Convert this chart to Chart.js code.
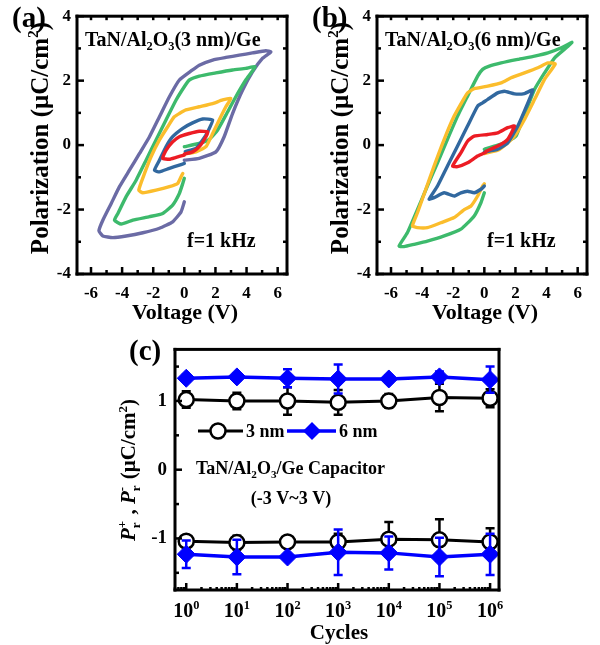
<!DOCTYPE html>
<html>
<head>
<meta charset="utf-8">
<script src="https://cdn.jsdelivr.net/npm/chart.js@4/dist/chart.umd.min.js"></script>
<style>
  html, body { margin: 0; padding: 0; background: #fff; }
  body { width: 600px; height: 645px; position: relative; overflow: hidden; }
  canvas { position: absolute; }
</style>
</head>
<body>
<canvas id="chartA" width="300" height="330" style="left:0;top:0"></canvas>
<canvas id="chartB" width="300" height="330" style="left:300px;top:0"></canvas>
<canvas id="chartC" width="600" height="315" style="left:0;top:330px"></canvas>
<script>
// ---------- P–V hysteresis loops, TaN/Al2O3(3 nm)/Ge ----------
const a_red_V = [0, 0.53, 0.96, 1.39, 1.5, 0.96, 0.32, -0.32, -0.75, -1.18, -1.39, -0.96, -0.53, 0];
const a_red_P = [-0.28, -0.21, -0.05, 0.26, 0.41, 0.43, 0.36, 0.26, 0.1, -0.16, -0.41, -0.44, -0.38, -0.31];

const a_blue_V = [0.06, 0.75, 1.18, 1.5, 1.82, 1.18, 0.53, -0.1, -0.75, -1.18, -1.6, -1.92, -1.6, -0.96, -0.32, 0];
const a_blue_P = [-0.2, -0.1, 0.16, 0.41, 0.78, 0.81, 0.69, 0.52, 0.26, -0.05, -0.47, -0.78, -0.83, -0.72, -0.62, -0.57];

const a_yellow_V = [0, 0.75, 1.39, 1.82, 2.24, 2.67, 2.99, 2.46, 1.82, 0.96, 0.1, -0.32, -0.64, -1.07, -1.6, -2.14, -2.56, -2.93, -2.67, -1.82, -0.96, -0.43, -0.21, -0.1];
const a_yellow_P = [-0.28, -0.21, -0.05, 0.36, 0.78, 1.19, 1.45, 1.4, 1.29, 1.19, 1.09, 0.98, 0.88, 0.57, 0.16, -0.36, -0.88, -1.4, -1.48, -1.4, -1.29, -1.19, -0.98, -0.88];

const a_green_V = [0, 0.96, 1.6, 2.14, 2.67, 3.31, 3.95, 4.55, 3.95, 3.1, 2.03, 0.96, 0.32, 0.05, -0.53, -1.18, -1.82, -2.46, -3.1, -3.74, -4.27, -4.49, -4.06, -3.31, -2.24, -1.39, -0.75, -0.32, -0.1, 0];
const a_green_P = [-0.05, 0.05, 0.18, 0.47, 0.93, 1.5, 2.02, 2.43, 2.38, 2.33, 2.24, 2.14, 2.02, 1.85, 1.4, 0.78, 0.16, -0.47, -1.09, -1.6, -2.12, -2.33, -2.45, -2.33, -2.22, -2.12, -1.86, -1.5, -1.19, -1.03];

const a_purple_V = [0, 0.96, 2.03, 2.56, 3.1, 3.74, 4.38, 5.02, 5.56, 5.24, 4.38, 3.53, 2.67, 1.82, 0.96, 0.43, -0.32, -0.96, -1.6, -2.24, -2.88, -3.53, -4.17, -4.7, -5.24, -5.49, -5.24, -4.6, -3.74, -2.67, -1.6, -0.75, -0.21, 0];
const a_purple_P = [-0.47, -0.41, -0.21, 0.26, 0.98, 1.7, 2.27, 2.69, 2.89, 2.93, 2.86, 2.79, 2.72, 2.64, 2.48, 2.3, 2.02, 1.5, 0.88, 0.26, -0.26, -0.78, -1.29, -1.81, -2.33, -2.66, -2.82, -2.87, -2.82, -2.72, -2.58, -2.38, -2.07, -1.76];

// ---------- P–V hysteresis loops, TaN/Al2O3(6 nm)/Ge ----------
const b_red_V = [0.1, 0.86, 1.5, 1.94, 1.5, 0.86, 0.22, -0.65, -1.08, -1.51, -2.04, -1.72, -1.08, -0.43, 0.1];
const b_red_P = [-0.19, -0.03, 0.18, 0.59, 0.54, 0.38, 0.33, 0.28, 0.12, -0.24, -0.65, -0.67, -0.55, -0.34, -0.22];

const b_blue_V = [0, 0.86, 1.5, 2.15, 2.8, 3.12, 2.58, 1.94, 1.29, 0.86, 0.22, -0.11, -0.43, -1.08, -1.72, -2.37, -3.01, -3.55, -3.23, -2.58, -1.94, -1.51, -1.08, -0.65, -0.22, 0];
const b_blue_P = [-0.22, -0.13, 0.07, 0.59, 1.31, 1.71, 1.6, 1.59, 1.67, 1.62, 1.42, 1.31, 1.21, 0.59, -0.03, -0.65, -1.27, -1.68, -1.63, -1.48, -1.58, -1.48, -1.43, -1.48, -1.37, -1.27];

const b_yellow_V = [0, 0.86, 1.5, 1.94, 2.58, 3.23, 3.87, 4.56, 4.09, 3.44, 2.58, 1.72, 1.08, 0.22, -0.65, -1.08, -1.3, -1.94, -2.58, -3.23, -3.76, -4.3, -4.62, -4.3, -3.66, -2.8, -1.94, -1.29, -0.86, -0.43, -0.11, 0];
const b_yellow_P = [-0.26, -0.16, 0.07, 0.28, 0.8, 1.42, 2.04, 2.52, 2.55, 2.4, 2.24, 2.09, 1.93, 1.83, 1.75, 1.62, 1.45, 0.9, 0.18, -0.65, -1.37, -2.1, -2.51, -2.56, -2.56, -2.41, -2.25, -2.0, -1.89, -1.58, -1.27, -1.2];

const b_green_V = [0, 0.86, 1.5, 2.04, 2.37, 2.8, 3.23, 3.87, 4.52, 5.38, 5.63, 4.95, 4.09, 3.23, 2.15, 1.08, 0.32, -0.11, -0.43, -1.08, -1.72, -2.37, -3.01, -3.66, -4.3, -4.95, -5.48, -5.16, -4.52, -3.66, -2.58, -1.51, -0.65, -0.22, 0];
const b_green_P = [-0.13, 0, 0.12, 0.28, 0.69, 1.21, 1.73, 2.24, 2.71, 3.07, 3.19, 3.02, 2.86, 2.76, 2.66, 2.55, 2.45, 2.35, 2.14, 1.52, 0.9, 0.18, -0.55, -1.27, -2.0, -2.72, -3.13, -3.15, -3.08, -2.98, -2.82, -2.61, -2.2, -1.79, -1.48];

// ---------- Remanent polarization vs. switching cycles ----------
const cycles = [1, 10, 100, 1000, 10000, 100000, 1000000];
const pr3Plus = [1.02, 1.0, 1.0, 0.98, 1.0, 1.05, 1.04];
const pr3PlusErr = [0.12, 0.12, 0.2, 0.18, 0.1, 0.2, 0.13];
const pr3Minus = [-1.04, -1.06, -1.05, -1.05, -1.01, -1.02, -1.05];
const pr3MinusErr = [0.06, 0.1, 0.04, 0.12, 0.25, 0.3, 0.2];
const pr6Plus = [1.33, 1.35, 1.33, 1.32, 1.32, 1.35, 1.31];
const pr6PlusErr = [0.05, 0.05, 0.13, 0.21, 0.05, 0.08, 0.19];
const pr6Minus = [-1.23, -1.27, -1.27, -1.2, -1.21, -1.27, -1.23];
const pr6MinusErr = [0.2, 0.25, 0.03, 0.33, 0.24, 0.28, 0.3];

// axis tick values
const pvMajorY = [-4, -2, 0, 2, 4];
const pvMinorY = [-3, -1, 1, 3];
const pvMajorX = [-6, -4, -2, 0, 2, 4, 6];
const pvMinorX = [-5, -3, -1, 1, 3, 5];
const cycleMajorY = [-1, 0, 1];
const cycleMinorY = [-1.5, -0.5, 0.5, 1.5];

const COLORS = { red: '#ec1c24', blue: '#31689f', yellow: '#fbbd2c', green: '#3dba6c', purple: '#6b6ba5' };
const SERIF = '"Liberation Serif", "Times New Roman", serif';

const pts = (V, P) => V.map((v, i) => ({ x: v, y: P[i] }));

// ---------- rich text helpers (sub/superscripts) ----------
function segFont(size, italic) { return (italic ? 'italic ' : '') + 'bold ' + size + 'px ' + SERIF; }
function segWidth(ctx, s, size) {
  if (s.s === 'ss') {
    ctx.font = segFont(size * 0.62);
    return Math.max(ctx.measureText(s.sub).width, ctx.measureText(s.sup).width) + 1;
  }
  const sz = (s.s === 'sub' || s.s === 'sup') ? size * 0.62 : size;
  ctx.font = segFont(sz, s.s === 'i');
  return ctx.measureText(s.t).width;
}
function drawRich(ctx, segs, x, y, size, align) {
  const widths = segs.map(s => segWidth(ctx, s, size));
  const total = widths.reduce((a, b) => a + b, 0);
  let cx = align === 'center' ? x - total / 2 : (align === 'right' ? x - total : x);
  ctx.textBaseline = 'alphabetic';
  ctx.textAlign = 'left';
  ctx.fillStyle = '#000';
  const base = y + size * 0.33;
  segs.forEach((s, i) => {
    if (s.s === 'ss') {
      ctx.font = segFont(size * 0.62);
      ctx.fillText(s.sub, cx, base + size * 0.22);
      ctx.fillText(s.sup, cx, base - size * 0.42);
    } else if (s.s === 'sub') {
      ctx.font = segFont(size * 0.62);
      ctx.fillText(s.t, cx, base + size * 0.2);
    } else if (s.s === 'sup') {
      ctx.font = segFont(size * 0.62);
      ctx.fillText(s.t, cx, base - size * 0.4);
    } else {
      ctx.font = segFont(size, s.s === 'i');
      ctx.fillText(s.t, cx, base);
    }
    cx += widths[i];
  });
}

// ---------- frame with inward ticks (drawn as filled bars) ----------
function drawFrame(chart, spec) {
  const ctx = chart.ctx;
  const area = chart.chartArea;
  const L = area.left, R = area.right, T = area.top, B = area.bottom;
  const sx = chart.scales.x;
  const sy = chart.scales.y;
  ctx.save();
  ctx.globalAlpha = 1;
  ctx.globalCompositeOperation = 'source-over';
  ctx.fillStyle = '#000000';
  const tw = 2.5;
  const bar = (side, v, len) => {
    if (side === 'left' || side === 'right') {
      const py = sy.getPixelForValue(v);
      const x0 = side === 'left' ? L : R - len;
      ctx.fillRect(x0, py - tw / 2, len, tw);
    } else {
      const px = sx.getPixelForValue(v);
      const y0 = side === 'bottom' ? B - len : T;
      ctx.fillRect(px - tw / 2, y0, tw, len);
    }
  };
  Object.keys(spec).forEach(side => {
    spec[side].major.forEach(v => bar(side, v, spec[side].majorLen));
    spec[side].minor.forEach(v => bar(side, v, spec[side].minorLen));
  });
  const fw = 3;
  ctx.fillRect(L - fw / 2, T - fw / 2, R - L + fw, fw);
  ctx.fillRect(L - fw / 2, B - fw / 2, R - L + fw, fw);
  ctx.fillRect(L - fw / 2, T - fw / 2, fw, B - T + fw);
  ctx.fillRect(R - fw / 2, T - fw / 2, fw, B - T + fw);
  ctx.restore();
}

function overlayPlugin(spec, drawText) {
  return {
    id: 'panelOverlay',
    afterDraw(chart) {
      const ctx = chart.ctx;
      drawFrame(chart, spec);
      ctx.save();
      drawText(ctx, chart);
      ctx.restore();
    }
  };
}

const tickFont = { family: SERIF, weight: 'bold', size: 17 };

function pvOptions() {
  return {
    responsive: false,
    animation: false,
    devicePixelRatio: 1,
    layout: { padding: { left: 0, right: 13, top: 15, bottom: 0 } },
    plugins: { legend: { display: false }, tooltip: { enabled: false } },
    scales: {
      x: {
        type: 'linear', min: -6.9, max: 6.6,
        afterBuildTicks: s => { s.ticks = pvMajorX.map(v => ({ value: v })); },
        afterFit: s => { s.height = 56; },
        grid: { display: false, drawTicks: false },
        border: { display: false },
        ticks: { padding: 9, font: tickFont, color: '#000', autoSkip: false, maxRotation: 0 }
      },
      y: {
        type: 'linear', min: -4, max: 4,
        afterBuildTicks: s => { s.ticks = pvMajorY.map(v => ({ value: v })); },
        afterFit: s => { s.width = 77; },
        grid: { display: false, drawTicks: false },
        border: { display: false },
        ticks: { padding: 6, font: tickFont, color: '#000', autoSkip: false }
      }
    }
  };
}

const pvFrame = {
  left: { major: pvMajorY, minor: pvMinorY, majorLen: 7, minorLen: 4 },
  right: { major: pvMajorY, minor: pvMinorY, majorLen: 4, minorLen: 4 },
  top: { major: pvMajorX, minor: pvMinorX, majorLen: 4, minorLen: 4 },
  bottom: { major: pvMajorX, minor: pvMinorX, majorLen: 7, minorLen: 4 }
};

function loop(V, P, color) {
  return { data: pts(V, P), showLine: true, borderColor: color, borderWidth: 3.4, pointRadius: 0, tension: 0.15, fill: false, borderJoinStyle: 'round', borderCapStyle: 'round' };
}

function pvText(letter, thickness) {
  return (ctx) => {
    ctx.fillStyle = '#000';
    ctx.font = 'bold 29px ' + SERIF;
    ctx.textBaseline = 'middle';
    ctx.textAlign = 'left';
    ctx.fillText(letter, 12, 20);
    // y-axis title
    ctx.save();
    ctx.translate(40, 138);
    ctx.rotate(-Math.PI / 2);
    drawRich(ctx, [{ t: 'Polarization (μC/cm' }, { t: '2', s: 'sup' }, { t: ')' }], 0, 0, 25, 'center');
    ctx.restore();
    // x-axis title
    drawRich(ctx, [{ t: 'Voltage (V)' }], 185, 312, 22, 'center');
    // sample label
    drawRich(ctx, [{ t: 'TaN/Al' }, { t: '2', s: 'sub' }, { t: 'O' }, { t: '3', s: 'sub' }, { t: '(' + thickness + ')/Ge' }], 85, 39, 20, 'left');
    drawRich(ctx, [{ t: 'f=1 kHz' }], 187, 240, 20, 'left');
  };
}

new Chart(document.getElementById('chartA'), {
  type: 'scatter',
  data: {
    datasets: [
      loop(a_red_V, a_red_P, COLORS.red),
      loop(a_blue_V, a_blue_P, COLORS.blue),
      loop(a_yellow_V, a_yellow_P, COLORS.yellow),
      loop(a_green_V, a_green_P, COLORS.green),
      loop(a_purple_V, a_purple_P, COLORS.purple)
    ]
  },
  options: pvOptions(),
  plugins: [overlayPlugin(pvFrame, pvText('(a)', '3 nm'))]
});

new Chart(document.getElementById('chartB'), {
  type: 'scatter',
  data: {
    datasets: [
      loop(b_red_V, b_red_P, COLORS.red),
      loop(b_blue_V, b_blue_P, COLORS.blue),
      loop(b_yellow_V, b_yellow_P, COLORS.yellow),
      loop(b_green_V, b_green_P, COLORS.green)
    ]
  },
  options: pvOptions(),
  plugins: [overlayPlugin(pvFrame, pvText('(b)', '6 nm'))]
});

// ---------- (c) endurance ----------
const errTable = [pr6PlusErr, pr6MinusErr, pr3PlusErr, pr3MinusErr];
const errorBars = {
  id: 'errorBars',
  beforeDatasetDraw(chart, args) {
    const ds = chart.data.datasets[args.index];
    const errs = errTable[args.index];
    const { ctx, scales } = chart;
    ctx.save();
    ctx.strokeStyle = ds.borderColor;
    ctx.lineWidth = 2.5;
    ds.data.forEach((p, i) => {
      const x = scales.x.getPixelForValue(p.x);
      const y1 = scales.y.getPixelForValue(p.y + errs[i]);
      const y2 = scales.y.getPixelForValue(p.y - errs[i]);
      ctx.beginPath();
      ctx.moveTo(x, y1); ctx.lineTo(x, y2);
      ctx.moveTo(x - 4.5, y1); ctx.lineTo(x + 4.5, y1);
      ctx.moveTo(x - 4.5, y2); ctx.lineTo(x + 4.5, y2);
      ctx.stroke();
    });
    ctx.restore();
  }
};

const logMinor = [];
for (let e = -1; e <= 6; e++) for (let m = 2; m <= 9; m++) logMinor.push(m * Math.pow(10, e));

const sixStyle = { borderColor: '#0000ff', backgroundColor: '#0000ff', pointStyle: 'rectRot', pointRadius: 9, borderWidth: 3.5, pointBorderWidth: 1 };
const threeStyle = { borderColor: '#000000', backgroundColor: '#ffffff', pointStyle: 'circle', pointRadius: 7.5, borderWidth: 3, pointBorderWidth: 2.5 };

const cycleFrame = {
  left: { major: cycleMajorY, minor: cycleMinorY, majorLen: 7, minorLen: 4 },
  bottom: { major: cycles, minor: logMinor.filter(v => v > 0.6 && v < 1.5e6), majorLen: 7, minorLen: 3 }
};

function cycleText(ctx, chart) {
  const sx = chart.scales.x;
  // decade tick labels
  cycles.forEach((c, i) => {
    drawRich(ctx, [{ t: '10' }, { t: String(i), s: 'sup' }], sx.getPixelForValue(c), 280, 20, 'center');
  });
  drawRich(ctx, [{ t: 'Cycles' }], 339, 302, 21, 'center');
  ctx.font = 'bold 29px ' + SERIF;
  ctx.fillStyle = '#000';
  ctx.textBaseline = 'middle';
  ctx.textAlign = 'left';
  ctx.fillText('(c)', 129, 23);
  // y-axis title
  ctx.save();
  ctx.translate(128, 140);
  ctx.rotate(-Math.PI / 2);
  drawRich(ctx, [
    { t: 'P', s: 'i' }, { s: 'ss', sub: 'r', sup: '+' }, { t: ' , ' },
    { t: 'P', s: 'i' }, { s: 'ss', sub: 'r', sup: '-' }, { t: ' (μC/cm' }, { t: '2', s: 'sup' }, { t: ')' }
  ], 0, 0, 21, 'center');
  ctx.restore();
  // legend
  const ly = 101;
  ctx.lineWidth = 3;
  ctx.strokeStyle = '#000';
  ctx.beginPath(); ctx.moveTo(198, ly); ctx.lineTo(243, ly); ctx.stroke();
  ctx.beginPath(); ctx.arc(218, ly, 7.5, 0, Math.PI * 2);
  ctx.fillStyle = '#fff'; ctx.fill(); ctx.lineWidth = 2.5; ctx.stroke();
  drawRich(ctx, [{ t: '3 nm' }], 246, ly, 18, 'left');
  ctx.strokeStyle = '#0000ff'; ctx.lineWidth = 3.5;
  ctx.beginPath(); ctx.moveTo(287, ly); ctx.lineTo(336, ly); ctx.stroke();
  ctx.fillStyle = '#0000ff';
  ctx.beginPath();
  ctx.moveTo(312, ly - 9); ctx.lineTo(321, ly); ctx.lineTo(312, ly + 9); ctx.lineTo(303, ly); ctx.closePath(); ctx.fill();
  drawRich(ctx, [{ t: '6 nm' }], 339, ly, 18, 'left');
  // device description
  drawRich(ctx, [{ t: 'TaN/Al' }, { t: '2', s: 'sub' }, { t: 'O' }, { t: '3', s: 'sub' }, { t: '/Ge Capacitor' }], 196, 138, 18, 'left');
  drawRich(ctx, [{ t: '(-3 V~3 V)' }], 291, 168, 18, 'center');
}

new Chart(document.getElementById('chartC'), {
  type: 'scatter',
  data: {
    datasets: [
      Object.assign({ label: '6 nm', data: pts(cycles, pr6Plus), showLine: true }, sixStyle),
      Object.assign({ label: '6 nm', data: pts(cycles, pr6Minus), showLine: true }, sixStyle),
      Object.assign({ label: '3 nm', data: pts(cycles, pr3Plus), showLine: true }, threeStyle),
      Object.assign({ label: '3 nm', data: pts(cycles, pr3Minus), showLine: true }, threeStyle)
    ]
  },
  options: {
    responsive: false,
    animation: false,
    devicePixelRatio: 1,
    layout: { padding: { left: 0, right: 101, top: 14, bottom: 0 } },
    plugins: { legend: { display: false }, tooltip: { enabled: false } },
    scales: {
      x: {
        type: 'logarithmic', min: 0.6, max: 1.5e6,
        afterBuildTicks: s => { s.ticks = cycles.map(v => ({ value: v })); },
        afterFit: s => { s.height = 55; },
        grid: { display: false, drawTicks: false },
        border: { display: false },
        ticks: { display: false }
      },
      y: {
        type: 'linear', min: -1.75, max: 1.75,
        afterBuildTicks: s => { s.ticks = cycleMajorY.map(v => ({ value: v })); },
        afterFit: s => { s.width = 175; },
        grid: { display: false, drawTicks: false },
        border: { display: false },
        ticks: { padding: 8, font: { family: SERIF, weight: 'bold', size: 19 }, color: '#000', autoSkip: false }
      }
    }
  },
  plugins: [errorBars, overlayPlugin(cycleFrame, cycleText)]
});
</script>
</body>
</html>
